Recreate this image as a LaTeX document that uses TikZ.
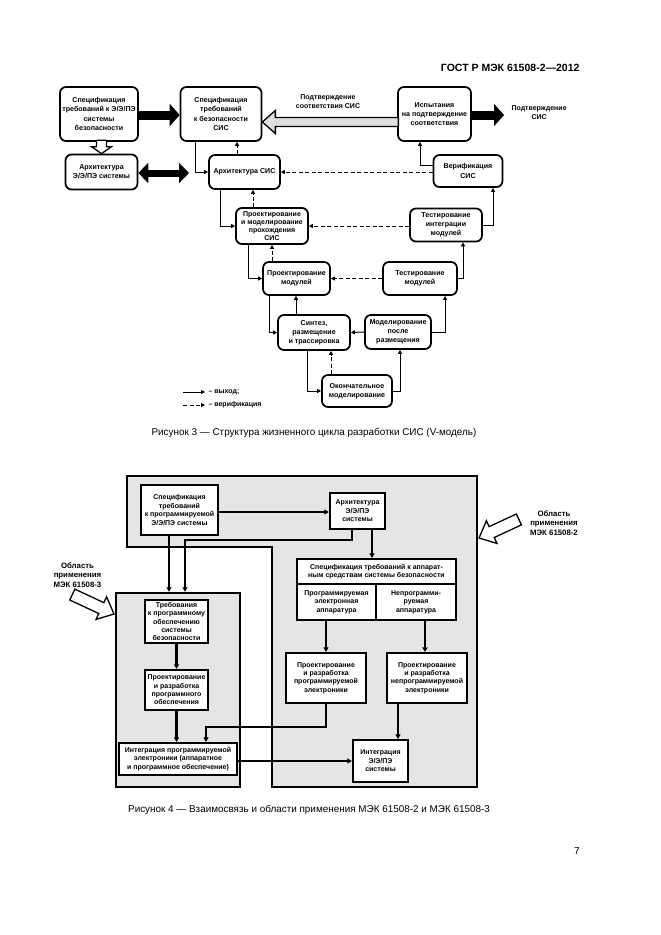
\documentclass[tikz,border=0pt]{standalone}
\usepackage{fontspec}
\setmainfont{Liberation Sans}
\usetikzlibrary{arrows.meta,calc}
\newcommand{\hollowarr}[7]{%
 \begin{scope}[shift={(#1)},rotate=#2]
 \draw[line width=1.3pt, fill=#7, line join=miter] (0,0) -- (-#6,#5) -- (-#6,#4) -- (-#3,#4) -- (-#3,-#4) -- (-#6,-#4) -- (-#6,-#5) -- cycle;
 \end{scope}}
\tikzset{
 bx/.style={draw, line width=1.7pt, rounded corners=6pt, align=center, font=\bfseries\fontsize{7.1}{9.2}\selectfont, inner sep=0.5pt},
 sq/.style={draw, line width=2.2pt, fill=white, align=center, font=\bfseries\fontsize{7}{8.4}\selectfont, inner sep=0.5pt},
 outl/.style={line width=1pt, -{Triangle[length=4pt,width=4pt]}},
 verl/.style={line width=1pt, dash pattern=on 4pt off 2.5pt, -{Triangle[length=4pt,width=4pt]}},
 fl/.style={line width=2.2pt, -{Triangle[length=4.5pt,width=5pt]}},
 fatarr/.style={line width=9pt, -{Triangle[length=10pt,width=22pt]}},
 lbl/.style={align=center, font=\bfseries\fontsize{7}{9}\selectfont},
 area/.style={draw, fill=gray!20, line width=2.5pt},
 captxt/.style={font=\fontsize{9.9}{12}\selectfont},
 scope3/.style={align=center, font=\bfseries\fontsize{7.8}{9.5}\selectfont},
}
\begin{document}
\begin{tikzpicture}[x=1pt,y=-1pt]
\path[use as bounding box, fill=white] (0,0) rectangle (661,935);
\node[anchor=east, font=\bfseries\fontsize{10.5}{12}\selectfont] (hdr) at (583,68) {ГОСТ Р МЭК 61508-2—2012};

% ---------- Figure 3 ----------
\node[bx, minimum width=78, minimum height=54] (A) at (99,114) {Спецификация\\требований к Э/Э/ПЭ\\системы\\безопасности};
\node[bx, minimum width=81, minimum height=54] (B) at (221,114) {Спецификация\\требований\\к безопасности\\СИС};
\node[bx, minimum width=73, minimum height=54] (C) at (434.5,114) {Испытания\\на подтверждение\\соответствия};
\node[bx, minimum width=72, minimum height=35] (D) at (101.5,172) {Архитектура\\Э/Э/ПЭ системы};
\node[bx, minimum width=71, minimum height=34] (E) at (244.5,172) {Архитектура СИС};
\node[bx, minimum width=69, minimum height=32] (F) at (468,171) {Верификация\\СИС};
\node[bx, minimum width=72, minimum height=36, font=\bfseries\fontsize{7}{8.2}\selectfont] (G) at (272,226) {Проектирование\\и моделирование\\прохождения\\СИС};
\node[bx, minimum width=72, minimum height=33] (H) at (446,225) {Тестирование\\интеграции\\модулей};
\node[bx, minimum width=67, minimum height=33] (I) at (296.5,278.5) {Проектирование\\модулей};
\node[bx, minimum width=74, minimum height=33] (J) at (420,278.5) {Тестирование\\модулей};
\node[bx, minimum width=72, minimum height=35] (K) at (314,332.5) {Синтез,\\размещение\\и трассировка};
\node[bx, minimum width=66, minimum height=34] (L) at (398,332) {Моделирование\\после\\размещения};
\node[bx, minimum width=70, minimum height=32] (M) at (357,391) {Окончательное\\моделирование};

\draw[fatarr] (A.east |- 0,115) -- (B.west |- 0,115);
\hollowarr{B.east |- 0,122}{180}{136}{4.5}{11.5}{13}{gray!25}
\node[lbl] (lc) at (328,102) {Подтверждение\\соответствия СИС};
\coordinate (cr) at (504,115);
\draw[fatarr] (C.east |- cr) -- (cr);
\node[lbl, anchor=west] (lcr) at (508,113) {Подтверждение\\СИС};
\hollowarr{D.north}{-90}{13.5}{5}{10}{7}{white}
\coordinate (de) at (189,173);
\draw[line width=7pt, {Triangle[length=10pt,width=20pt]}-{Triangle[length=10pt,width=20pt]}] (D.east |- de) -- (de);

\draw[outl] (B.south -| 195,0) |- (E.west);
\draw[verl] (E.north -| 237,0) -- (B.south -| 237,0);
\draw[verl] (F.west |- E.east) -- (E.east);
\draw[outl] (E.south -| 220,0) |- (G.west);
\draw[verl] (G.north -| 253,0) -- (E.south -| 253,0);
\draw[verl] (H.west |- G.east) -- (G.east);
\draw[outl] (G.south -| 248,0) |- (I.west);
\draw[verl] (I.north -| 272,0) -- (G.south -| 272,0);
\draw[verl] (J.west) -- (I.east);
\draw[outl] (I.south -| 269,0) |- (K.west);
\draw[outl] (K.north -| 296,0) -- (I.south -| 296,0);
\draw[outl] (L.west) -- (K.east);
\draw[outl] (K.south -| 307,0) |- (M.west);
\draw[verl] (M.north -| 331,0) -- (K.south -| 331,0);
\draw[outl] (M.east) -| (L.south -| 400,0);
\draw[outl] (L.east) -| (J.south -| 445,0);
\draw[outl] (J.east) -| (H.south -| 463,0);
\draw[outl] (H.east) -| (F.south -| 493,0);
\draw[outl] (F.west |- 0,165) -| (C.south -| 420,0);

\coordinate (la1) at (183,392); \coordinate (lb1) at (205,392);
\coordinate (la2) at (183,405); \coordinate (lb2) at (205,405);
\draw[outl] (la1) -- (lb1);
\draw[verl] (la2) -- (lb2);
\node[lbl, anchor=west] (t1) at (lb1) {– выход;};
\node[lbl, anchor=west] (t2) at (lb2) {– верификация};

\node[captxt] (cap3) at (314,433) {Рисунок 3 — Структура жизненного цикла разработки СИС (V-модель)};

% ---------- Figure 4 ----------
\draw[area] (127,476) -- (477,476) -- (477,787) -- (272,787) -- (272,547) -- (127,547) -- cycle;
\node[area, minimum width=124, minimum height=194, inner sep=0] (area3) at (178,690) {};

\node[sq, minimum width=77, minimum height=50] (a4) at (179.5,510) {Спецификация\\требований\\к программируемой\\Э/Э/ПЭ системы};
\node[sq, minimum width=55, minimum height=36] (b4) at (357.5,511) {Архитектура\\Э/Э/ПЭ\\системы};
\node[sq, minimum width=159, minimum height=25] (c4t) at (376.5,571.5) {Спецификация требований к аппарат-\\ным средствам системы безопасности};
\node[sq, minimum width=79, minimum height=36] (c4l) at (336.5,602) {Программируемая\\электронная\\аппаратура};
\node[sq, minimum width=80, minimum height=36] (c4r) at (416,602) {Непрограмми-\\руемая\\аппаратура};
\node[sq, minimum width=80, minimum height=50] (d4) at (326,678) {Проектирование\\и разработка\\программируемой\\электроники};
\node[sq, minimum width=80, minimum height=50] (e4) at (427,678) {Проектирование\\и разработка\\непрограммируемой\\электроники};
\node[sq, minimum width=55, minimum height=42] (f4) at (380.5,761) {Интеграция\\Э/Э/ПЭ\\системы};
\node[sq, minimum width=63, minimum height=43] (a3) at (176.5,621.5) {Требования\\к программному\\обеспечению\\системы\\безопасности};
\node[sq, minimum width=63, minimum height=40] (b3) at (176.5,690) {Проектирование\\и разработка\\программного\\обеспечения};
\node[sq, minimum width=118, minimum height=32] (c3) at (178,759) {Интеграция программируемой\\электроники (аппаратное\\и программное обеспечение)};

\draw[fl] (a4.east |- 0,512) -- (b4.west |- 0,512);
\draw[fl] (b4.south -| 372,0) -- (c4t.north -| 372,0);
\draw[fl] (b4.south -| 352,0) -- (352,540) -| (area3.north -| 185,0);
\draw[fl] (a4.south -| 169,0) -- (area3.north -| 169,0);
\draw[fl] (a3.south) -- (b3.north);
\draw[fl] (b3.south) -- (c3.north -| b3.south);
\draw[fl] (c4l.south -| d4.north) -- (d4.north);
\draw[fl] (c4r.south -| 425,0) -- (e4.north -| 425,0);
\draw[fl] (d4.south) -- (326,727) -| (c3.north -| 206,0);
\draw[fl] (e4.south -| 398,0) -- (f4.north -| 398,0);
\draw[fl] (c3.east |- f4.west) -- (f4.west);

\hollowarr{479,538}{205}{44}{6}{12.5}{14}{white}
\hollowarr{114,614}{-25}{46}{6}{12.5}{14}{white}
\node[scope3] (l2) at (554,523) {Область\\применения\\МЭК 61508-2};
\node[scope3] (l3) at (77.5,575) {Область\\применения\\МЭК 61508-3};

\node[captxt] (cap4) at (309,810) {Рисунок 4 — Взаимосвязь и области применения МЭК 61508-2 и МЭК 61508-3};
\node[font=\fontsize{10}{12}\selectfont] (pg) at (577,851) {7};
\end{tikzpicture}
\end{document}
